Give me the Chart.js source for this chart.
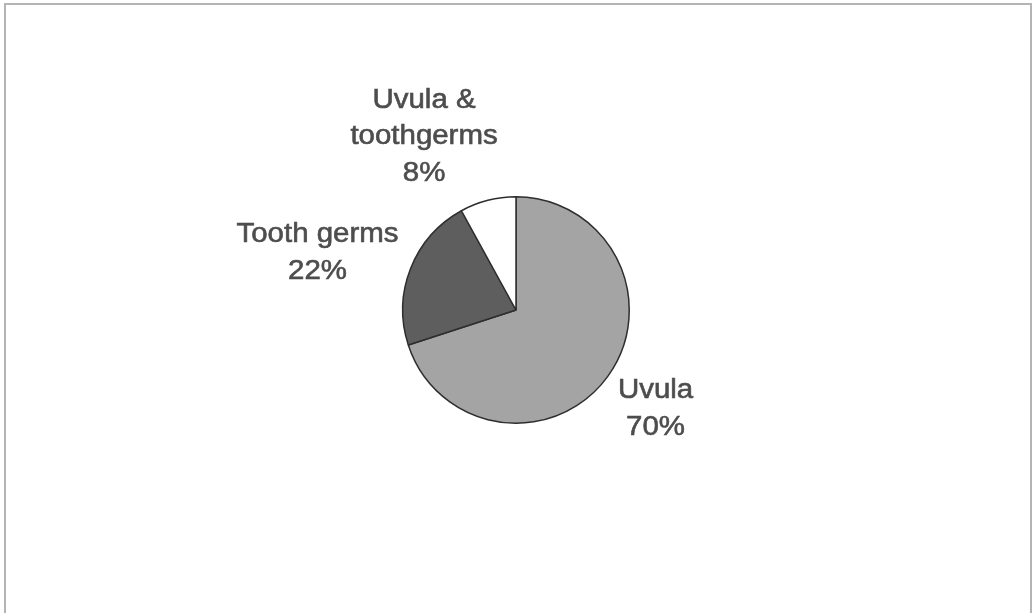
<!DOCTYPE html>
<html>
<head>
<meta charset="utf-8">
<script src="https://cdn.jsdelivr.net/npm/chart.js@4/dist/chart.umd.min.js"></script>
<style>
  html, body { margin: 0; padding: 0; background: #fff; }
  #wrap { position: relative; width: 1034px; height: 613px; overflow: hidden; }
  #frame {
    position: absolute; left: 4px; top: 3px; width: 1024px; height: 640px;
    border: 2px solid #b4b4b4; border-bottom: none;
  }
  canvas { position: absolute; left: 0; top: 0; }
</style>
</head>
<body>
<div id="wrap">
  <div id="frame"></div>
  <canvas id="pieChart" width="1034" height="613"></canvas>
</div>
<script>
// chart data
const categories = ['Uvula', 'Tooth germs', 'Uvula & toothgerms'];
const labelLines = [['Uvula'], ['Tooth germs'], ['Uvula &', 'toothgerms']];
const percents = [70, 22, 8];
const sliceColors = ['#a4a4a4', '#5e5e5e', '#ffffff'];

// small per-label nudges so labels sit where Excel put them
const labelNudge = [[11, 4], [-10.5, -1], [-43.5, -5]];

const FONT_SIZE = 27;
const FONT = FONT_SIZE + 'px "Liberation Sans", Arial, sans-serif';
const LINE_H = 36.5;
const STRETCH = 1.09;

const outsideLabels = {
  id: 'outsideLabels',
  afterDatasetsDraw(chart) {
    const ctx = chart.ctx;
    const meta = chart.getDatasetMeta(0);
    const capH = FONT_SIZE * 0.716;
    ctx.save();
    ctx.font = FONT;
    ctx.fillStyle = '#4d4d4d';
    ctx.strokeStyle = '#4d4d4d';
    ctx.lineWidth = 0.6;
    ctx.textAlign = 'center';
    ctx.textBaseline = 'alphabetic';
    meta.data.forEach((arc, i) => {
      const mid = (arc.startAngle + arc.endAngle) / 2;
      const dx = Math.cos(mid), dy = Math.sin(mid);
      const lines = labelLines[i].concat([percents[i] + '%']);
      let w = 0;
      lines.forEach(t => { w = Math.max(w, ctx.measureText(t).width * STRETCH); });
      const hw = w / 2, hh = lines.length * LINE_H / 2;
      const r = arc.outerRadius + 8;
      const cx = arc.x + dx * r + dx * hw + labelNudge[i][0];
      const cy = arc.y + dy * r + dy * hh + labelNudge[i][1];
      lines.forEach((t, k) => {
        const y = cy - hh + LINE_H * (k + 0.5) + capH / 2;
        ctx.save();
        ctx.translate(cx, y);
        ctx.scale(STRETCH, 1);
        ctx.fillText(t, 0, 0);
        ctx.strokeText(t, 0, 0);
        ctx.restore();
      });
    });
    ctx.restore();
  }
};

const ctx = document.getElementById('pieChart').getContext('2d');
const pieChart = new Chart(ctx, {
  type: 'pie',
  data: {
    labels: categories,
    datasets: [{
      data: percents,
      backgroundColor: sliceColors,
      borderColor: '#2e2e2e',
      borderWidth: 1.5,
      hoverOffset: 0,
    }],
  },
  options: {
    responsive: false,
    animation: false,
    layout: {
      padding: { left: 402, right: 404, top: 196, bottom: 189 },
    },
    plugins: {
      legend: { display: false },
      tooltip: { enabled: false },
    },
  },
  plugins: [outsideLabels],
});
</script>
</body>
</html>
